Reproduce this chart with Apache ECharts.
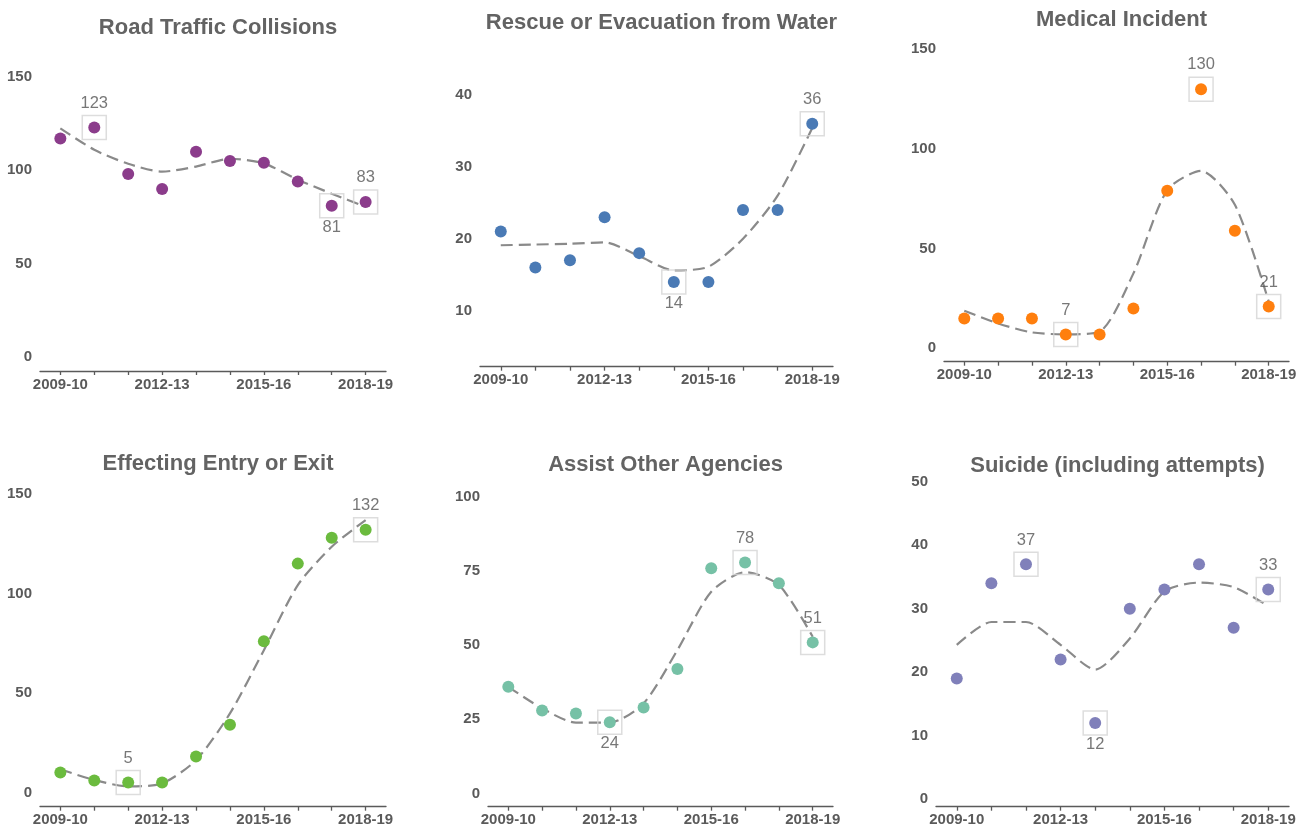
<!DOCTYPE html>
<html>
<head>
<meta charset="utf-8">
<script src="https://cdn.jsdelivr.net/npm/echarts@6/dist/echarts.min.js"></script>
<style>
html,body{margin:0;padding:0;background:#fff;}
#chart{width:1309px;height:828px;}
</style>
</head>
<body>
<div id="chart"></div>
<script>
// ---- data ----
const categories = ['2009-10','2010-11','2011-12','2012-13','2013-14','2014-15','2015-16','2016-17','2017-18','2018-19'];
const xTickLabels = ['2009-10','2012-13','2015-16','2018-19'];

const titles = ['Road Traffic Collisions','Rescue or Evacuation from Water','Medical Incident',
                'Effecting Entry or Exit','Assist Other Agencies','Suicide (including attempts)'];

const roadValues     = [117, 123, 98, 90, 110, 105, 104, 94, 81, 83];
const roadTrend      = [122.5, 111, 103.5, 99.3, 102, 106.2, 103.7, 95, 87.5, 80.5];
const waterValues    = [21, 16, 17, 23, 18, 14, 14, 24, 24, 36];
const waterTrend     = [19.1, 19.2, 19.3, 19.5, 17.6, 15.6, 16.1, 20.0, 26.0, 35.4];
const medicalValues  = [15, 15, 15, 7, 7, 20, 79, 130, 59, 21];
const medicalTrend   = [18.9, 12.5, 8.0, 7.0, 8.4, 37.6, 79.4, 89.0, 72.0, 23.4];
const entryValues    = [10, 6, 5, 5, 18, 34, 76, 115, 128, 132];
const entryTrend     = [11.6, 6.2, 3.0, 4.5, 16.2, 39.7, 71.5, 104.2, 123.5, 136.9];
const assistValues   = [36, 28, 27, 24, 29, 42, 76, 78, 71, 51];
const assistTrend    = [36, 28.7, 23.9, 23.9, 30.4, 48.4, 68.1, 74.7, 70.4, 52.9];
const suicideValues  = [19, 34, 37, 22, 12, 30, 33, 37, 27, 33];
const suicideTrend   = [24.3, 27.9, 27.9, 24.3, 20.4, 25.3, 32.7, 34.1, 33.4, 30.4];

const yTicks = [[0,50,100,150],[10,20,30,40],[0,50,100,150],[0,50,100,150],[0,25,50,75,100],[0,10,20,30,40,50]];
const yRanges = [[-7.5,150],[2.2,40],[-6.7,150],[-7.2,150],[-4.5,100],[-1.2,50]];

// highlighted points: [category index, label side]
const highlights = [
  [[1,'top'],[8,'bottom'],[9,'top']],
  [[5,'bottom'],[9,'top']],
  [[3,'top'],[7,'top'],[9,'top']],
  [[2,'top'],[9,'top']],
  [[3,'bottom'],[7,'top'],[9,'top']],
  [[2,'top'],[4,'bottom'],[9,'top']]
];

const colors = ['#8b3c8b','#4a7ab5','#ff7f0e','#6bbb3e','#76c1a6','#8080ba'];
const valuesList = [roadValues, waterValues, medicalValues, entryValues, assistValues, suicideValues];
const trendList = [roadTrend, waterTrend, medicalTrend, entryTrend, assistTrend, suicideTrend];

// ---- layout ----
const grids = [
  {left:40,  top:77,    width:346, height:294},
  {left:480, top:95,    width:353, height:271.7},
  {left:944, top:49.3,  width:345, height:312.4},
  {left:40,  top:494,   width:346, height:312.7},
  {left:488, top:497.3, width:345, height:309.4},
  {left:936, top:481.7, width:353, height:325}
];
const titleTops = [23, 18, 15, 459, 460, 461];

const FONT = '"Liberation Sans", Arial, sans-serif';
const AXIS_COLOR = '#5a5a5a';
const LABEL_COLOR = '#5a5a5a';

const option = {
  animation:false,
  backgroundColor:'#fff',
  title:[], grid:[], xAxis:[], yAxis:[], series:[]
};

for (let i=0;i<6;i++){
  const g = grids[i];
  option.grid.push({left:g.left, top:g.top, width:g.width, height:g.height, containLabel:false});
  option.title.push({
    text:titles[i], left:g.left + g.width/2, top:titleTops[i], textAlign:'center', textVerticalAlign:'middle',
    textStyle:{fontFamily:FONT, fontSize:22, fontWeight:'bold', color:'#636363'}
  });
  option.xAxis.push({
    type:'value', gridIndex:i, min:-0.6, max:9.6,
    axisLine:{show:true, onZero:false, lineStyle:{color:AXIS_COLOR, width:1.3}},
    axisTick:{show:true, length:4, customValues:categories.map((c,k)=>k), lineStyle:{color:AXIS_COLOR, width:1.3}},
    axisLabel:{show:true, customValues:xTickLabels.map(l=>categories.indexOf(l)),
      formatter:v=>categories[Math.round(v)], fontFamily:FONT, fontSize:15, fontWeight:'bold', color:LABEL_COLOR, margin:6},
    splitLine:{show:false}
  });
  option.yAxis.push({
    type:'value', gridIndex:i, min:yRanges[i][0], max:yRanges[i][1],
    axisLine:{show:false}, axisTick:{show:false},
    axisLabel:{show:true, customValues:yTicks[i], fontFamily:FONT, fontSize:15, fontWeight:'bold', color:LABEL_COLOR, margin:8},
    splitLine:{show:false}
  });
  option.series.push({
    type:'line', xAxisIndex:i, yAxisIndex:i,
    data:trendList[i].map((v,k)=>[k,v]),
    smooth:0.25, showSymbol:false, symbol:'none', z:2,
    lineStyle:{color:'#8a8a8a', width:2.2, type:[12,6]}
  });
  option.series.push({
    type:'scatter', xAxisIndex:i, yAxisIndex:i,
    data:highlights[i].map(h=>({value:[h[0], valuesList[i][h[0]]],
      label:{position:h[1], distance: h[1]==='top'?3:0}})),
    symbol:'rect', symbolSize:24, z:3,
    itemStyle:{color:'rgba(255,255,255,0)', borderColor:'#d4d4d4', borderWidth:1.5},
    label:{show:true, formatter:p=>String(p.value[1]), fontFamily:FONT, fontSize:16.5, color:'#555555'}
  });
  option.series.push({
    type:'scatter', xAxisIndex:i, yAxisIndex:i,
    data:valuesList[i].map((v,k)=>[k,v]),
    symbol:'circle', symbolSize:12, z:4,
    itemStyle:{color:colors[i], opacity:1}
  });
}

const chart = echarts.init(document.getElementById('chart'), null, {renderer:'canvas'});
chart.setOption(option);
</script>
</body>
</html>
